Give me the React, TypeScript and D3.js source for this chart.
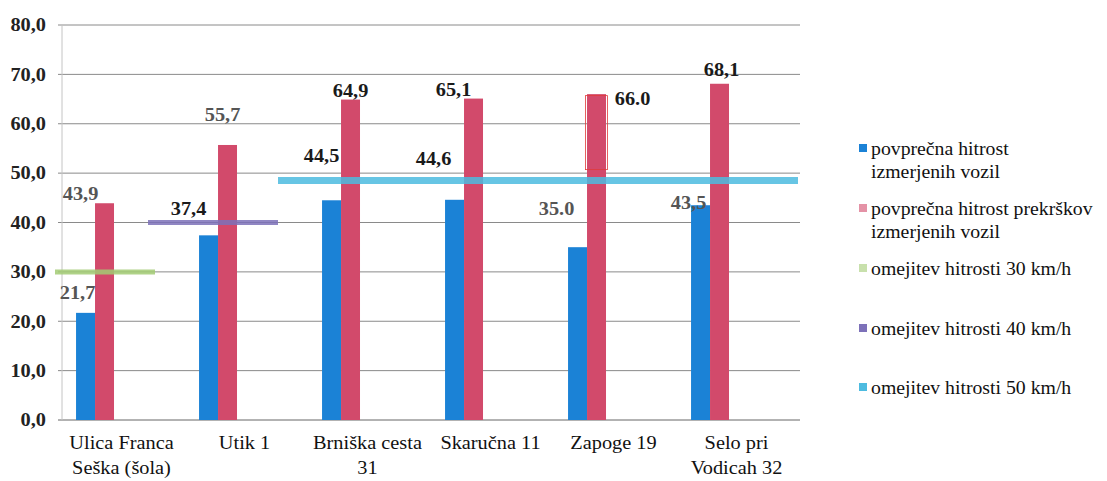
import React from "react";
import * as d3 from "d3";

const categories: string[][] = [
  ["Ulica Franca", "Seška (šola)"],
  ["Utik 1"],
  ["Brniška cesta", "31"],
  ["Skaručna 11"],
  ["Zapoge 19"],
  ["Selo pri", "Vodicah 32"],
];
const avgSpeed = [21.7, 37.4, 44.5, 44.6, 35.0, 43.5];
const avgViolation = [43.9, 55.7, 64.9, 65.1, 66.0, 68.1];
const avgSpeedLabels = ["21,7", "37,4", "44,5", "44,6", "35.0", "43,5"];
const avgViolationLabels = ["43,9", "55,7", "64,9", "65,1", "66.0", "68,1"];
const yTicks = [0, 10, 20, 30, 40, 50, 60, 70, 80];
const yTickLabels = ["0,0", "10,0", "20,0", "30,0", "40,0", "50,0", "60,0", "70,0", "80,0"];
// speed limits: value and the categories spanned (start index, end index inclusive)
const limitValues = [30, 40, 48.5];
const limitSpans = [[0, 0], [1, 1], [2, 5]];
const legendLabels = [
  ["povprečna hitrost", "izmerjenih vozil"],
  ["povprečna hitrost prekrškov", "izmerjenih vozil"],
  ["omejitev hitrosti 30 km/h"],
  ["omejitev hitrosti 40 km/h"],
  ["omejitev hitrosti 50 km/h"],
];
const seriesKeys = ["s1", "s2", "s3", "s4", "s5"];

// styling / layout (not data)
const colors = ["#1b82d6", "#d24a6b", "#a3cc74", "#7d71b9", "#4dbbe0"];
const limitStartOffsets = [-7, -37, -30];
const blueLabelOffsets = [[-8, -20], [-20, -27], [-10, -45], [-21, -41], [-21, -38], [-12, -3]];
const redLabelOffsets = [[-24, -10], [-5, -30], [0, -9], [-20, -9], [36, 5], [2, -14]];
const blueLabelFaded = [true, false, false, false, true, true];
const redLabelFaded = [true, true, false, false, false, false];

const W = 1107;
const H = 481;
const left = 62;
const right = 800;
const top = 25;
const bottom = 420;
const FONT = "Liberation Serif, Times New Roman, serif";
const SX = 1.13;

type TProps = {
  x: number;
  y: number;
  anchor?: "start" | "middle" | "end";
  size: number;
  bold?: boolean;
  fill?: string;
  sx?: number;
  children: React.ReactNode;
};

function T({ x, y, anchor = "start", size, bold, fill = "#111", sx = SX, children }: TProps) {
  return (
    <text
      transform={`translate(${x},${y}) scale(${sx},1)`}
      x={0}
      y={0}
      dy="0.35em"
      textAnchor={anchor}
      style={{ fontFamily: FONT }}
      fontWeight={bold ? "bold" : "normal"}
      fontSize={size}
      fill={fill}
    >
      {children}
    </text>
  );
}

export default function App() {
  const x = d3.scaleBand<number>().domain(d3.range(categories.length)).range([left, right]).padding(0);
  const inner = d3.scaleBand<string>().domain(seriesKeys).range([0, x.bandwidth()]).paddingInner(0).paddingOuter(0.74);
  const y = d3.scaleLinear().domain([0, 80]).range([bottom, top]);
  const bw = inner.bandwidth();
  const xEnd = (i: number) => (i + 1 < categories.length ? (x(i + 1) as number) : right);

  const series = [
    { key: "s1", values: avgSpeed, labels: avgSpeedLabels, offsets: blueLabelOffsets, faded: blueLabelFaded, color: colors[0] },
    { key: "s2", values: avgViolation, labels: avgViolationLabels, offsets: redLabelOffsets, faded: redLabelFaded, color: colors[1] },
  ];

  const legendY = [148, 208, 268, 328, 387];

  return (
    <svg width={W} height={H} style={{ display: "block", position: "absolute", left: 0, top: 0, background: "#fff", fontFamily: FONT }}>
      <rect x={0} y={0} width={W} height={H} fill="#fff" />
      {/* gridlines + y tick labels */}
      {yTicks.map((t, i) => (
        <g key={"g" + i}>
          <line x1={left - 4} x2={right} y1={y(t)} y2={y(t)} stroke={i === 0 ? "#666" : "#8a8a8a"} strokeWidth={1} />
          <T x={46} y={y(t)} anchor="end" size={18} bold fill="#222">
            {yTickLabels[i]}
          </T>
        </g>
      ))}
      <line x1={left} x2={left} y1={top} y2={bottom} stroke="#c4c4c4" strokeWidth={1} />

      {/* bars */}
      {series.map((s) =>
        s.values.map((v, i) => (
          <rect
            key={s.key + i}
            x={(x(i) as number) + (inner(s.key) as number)}
            y={y(v)}
            width={bw}
            height={y(0) - y(v)}
            fill={s.color}
          />
        ))
      )}
      {/* thin outline around one red bar top (as in the scanned original) */}
      <rect
        x={(x(4) as number) + (inner("s2") as number) - 1.5}
        y={y(avgViolation[4]) + 1.5}
        width={bw + 3}
        height={74}
        fill="none"
        stroke="#e03a3a"
        strokeWidth={0.8}
      />

      {/* limit lines */}
      {limitValues.map((v, k) => {
        const [a, b] = limitSpans[k];
        const x1 = (x(a) as number) + limitStartOffsets[k];
        const x2 = b === categories.length - 1 ? right - 2 : xEnd(b) - 30;
        return (
          <line
            key={"l" + k}
            x1={x1}
            x2={x2}
            y1={y(v)}
            y2={y(v)}
            stroke={colors[k + 2]}
            strokeWidth={k === 2 ? 7 : 5}
            opacity={0.85}
          />
        );
      })}

      {/* data labels */}
      {series.map((s) =>
        s.values.map((v, i) => (
          <T
            key={"t" + s.key + i}
            x={(x(i) as number) + (inner(s.key) as number) + bw / 2 + s.offsets[i][0]}
            y={y(v) + s.offsets[i][1]}
            anchor="middle"
            size={18}
            bold
            fill={s.faded[i] ? "#555" : "#1a1a1a"}
          >
            {s.labels[i]}
          </T>
        ))
      )}

      {/* x labels */}
      {categories.map((lines, i) =>
        lines.map((ln, j) => (
          <T key={"x" + i + "_" + j} x={(x(i) as number) + x.bandwidth() / 2 - 2} y={443 + j * 25} anchor="middle" size={18}>
            {ln}
          </T>
        ))
      )}

      {/* legend */}
      {legendLabels.map((lines, k) => (
        <g key={"lg" + k}>
          <rect x={859} y={legendY[k] - 4} width={8} height={8} fill={colors[k]} opacity={k === 1 || k === 2 ? 0.6 : 1} />
          {lines.map((ln, j) => (
            <T key={j} x={871} y={legendY[k] + j * 23} size={19} sx={1.04}>
              {ln}
            </T>
          ))}
        </g>
      ))}
    </svg>
  );
}
